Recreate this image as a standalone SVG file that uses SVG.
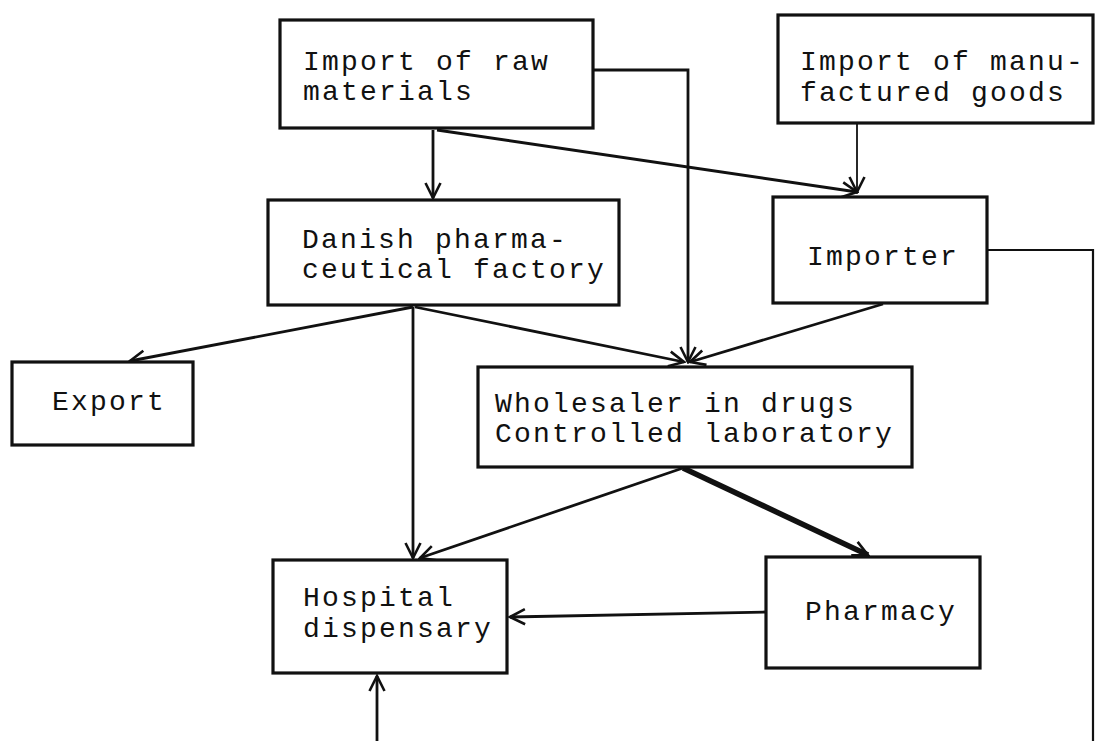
<svg xmlns="http://www.w3.org/2000/svg" width="1096" height="741" viewBox="0 0 1096 741">
<style>
.box{fill:#fff;stroke:#111;stroke-width:3.2}
.t{font-family:"Liberation Mono","DejaVu Sans Mono",monospace;font-size:28px;letter-spacing:2.2px;fill:#111}
.c{fill:none;stroke:#111;stroke-width:2.8}
</style>
<defs>
<marker id="a" markerUnits="userSpaceOnUse" markerWidth="20" markerHeight="20" viewBox="0 0 20 20" refX="18" refY="10" orient="auto">
<path d="M3,2.5 L18,10 L3,17.5" fill="none" stroke="#111" stroke-width="2.6"/>
</marker>
</defs>
<rect width="1096" height="741" fill="#fff"/>
<g id="connectors">
<path class="c" d="M433,130 V198" marker-end="url(#a)"/>
<path class="c" d="M437,130 L857,192" marker-end="url(#a)"/>
<path class="c" d="M593,70 H688 V362" marker-end="url(#a)"/>
<path class="c" style="stroke-width:1.8" d="M857,124 V192" marker-end="url(#a)"/>
<path class="c" d="M413,307 L130,361" marker-end="url(#a)"/>
<path class="c" d="M413,307 V558" marker-end="url(#a)"/>
<path class="c" d="M415,307 L684,362" marker-end="url(#a)"/>
<path class="c" d="M883,304 L690,362" marker-end="url(#a)"/>
<path class="c" d="M683,468 L420,558" marker-end="url(#a)"/>
<path class="c" style="stroke-width:5.5" d="M683,468 L868,555" marker-end="url(#a)"/>
<path class="c" d="M766,612 L510,617" marker-end="url(#a)"/>
<path class="c" d="M377,741 V676" marker-end="url(#a)"/>
<path class="c" style="stroke-width:2.2" d="M987,250 H1093 V741"/>
</g>
<g id="raw">
<rect class="box" x="280" y="20" width="313" height="108"/>
<text class="t" x="303" y="70">Import of raw</text>
<text class="t" x="303" y="100">materials</text>
</g>
<g id="manu">
<rect class="box" x="778" y="15" width="315" height="108"/>
<text class="t" x="800" y="70">Import of manu-</text>
<text class="t" x="800" y="101">factured goods</text>
</g>
<g id="danish">
<rect class="box" x="268" y="200" width="351" height="105"/>
<text class="t" x="302" y="248">Danish pharma-</text>
<text class="t" x="302" y="278">ceutical factory</text>
</g>
<g id="importer">
<rect class="box" x="773" y="197" width="214" height="106"/>
<text class="t" x="807" y="265">Importer</text>
</g>
<g id="export">
<rect class="box" x="12" y="362" width="181" height="83"/>
<text class="t" x="52" y="410">Export</text>
</g>
<g id="wholesaler">
<rect class="box" x="478" y="367" width="434" height="100"/>
<text class="t" x="495" y="412">Wholesaler in drugs</text>
<text class="t" x="495" y="442">Controlled laboratory</text>
</g>
<g id="hospital">
<rect class="box" x="273" y="560" width="234" height="113"/>
<text class="t" x="303" y="606">Hospital</text>
<text class="t" x="303" y="637">dispensary</text>
</g>
<g id="pharmacy">
<rect class="box" x="766" y="557" width="214" height="111"/>
<text class="t" x="805" y="620">Pharmacy</text>
</g>
</svg>
